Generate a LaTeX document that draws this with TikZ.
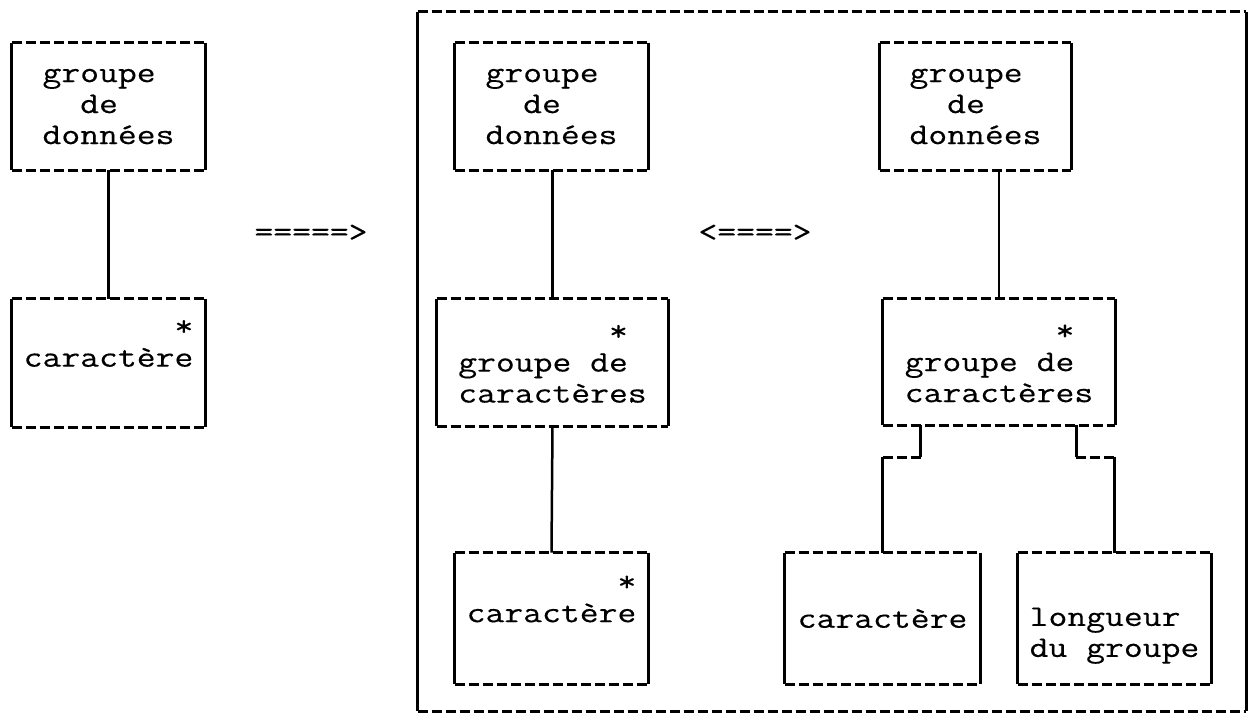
\documentclass[tikz,border=0pt]{standalone}
\usepackage{fontspec}
\setmonofont[FakeStretch=1.22,FakeBold=0.3]{Latin Modern Mono}
\usetikzlibrary{calc}
\newcommand{\ind}[1]{\leavevmode\hbox{\phantom{#1}}}
\begin{document}
\begin{tikzpicture}[x=0.5pt,y=-0.5pt,
  txt/.style={font=\ttfamily\fontsize{15}{15.5}\selectfont},
  bx/.style={txt,inner sep=0pt,draw=none,align=left},
  sz/.style 2 args={minimum width=#1pt,minimum height=#2pt},
  dsh/.style={line width=1.25pt,dash pattern=on 5pt off 2pt},
  sld/.style={line width=1.25pt},
  every path/.style={line cap=butt}]
\useasboundingbox (0,0) rectangle (1249,714);
% frame
\node[bx,sz={414}{349.5}] (frame) at (832,361.5) {};
% left
\node[bx,sz={96.5}{63.5}] (lg) at (108.5,106.5) {groupe\\\ind{gr}de\\données};
\node[bx,sz={96.5}{64}] (lc) at (108.5,363) {\ind{caracter}*\\caractère\\\strut};
% middle
\node[bx,sz={96.5}{63.5}] (mg) at (551.5,106.5) {groupe\\\ind{gr}de\\données};
\node[bx,sz={115.5}{63.5}] (mgc) at (552.5,362.5) {\ind{groupe d}*\\groupe de\\caractères};
\node[bx,sz={96.5}{65.5}] (mc) at (551.5,618.5) {\ind{caracter}*\\caractère\\\strut};
% right
\node[bx,sz={95.5}{63.5}] (rg) at (975.5,106.5) {groupe\\\ind{gr}de\\données};
\node[bx,sz={116}{63}] (rgc) at (999,362) {\ind{groupe d}*\\groupe de\\caractères};
\node[bx,sz={97.5}{65.5}] (rc) at (882.5,618.5) {caractère};
\node[bx,sz={96.5}{65.5}] (rl) at (1114.5,618.5) {\strut\\longueur\\du groupe};
% arrows as text
\node[txt,inner sep=0pt] (a1) at (311,233) {=====>};
\node[txt,inner sep=0pt] (a2) at (755,233) {<====>};
% box borders
\foreach \n in {frame,lg,lc,mg,mgc,mc,rg,rgc,rc,rl}{
  \draw[dsh] (\n.north west) -- (\n.north east);
  \draw[dsh] (\n.south west) -- (\n.south east);
  \draw[sld] (\n.north west) -- (\n.south west);
  \draw[sld] (\n.north east) -- (\n.south east);
}
% connectors
\draw[sld] (lg.south) -- (lc.north);
\draw[sld] (mg.south -| mgc.north) -- (mgc.north);
\draw[sld] (mgc.south) -- (mc.north);
\draw[sld] (rg.south -| rgc.north) -- (rgc.north);
\draw[sld] ($(rgc.south west)+(38,0)$) -- ++(0,32) coordinate (j1);
\draw[dsh] (j1) -- (j1 -| rc.north);
\draw[sld] (j1 -| rc.north) -- (rc.north);
\draw[sld] ($(rgc.south east)+(-39,0)$) -- ++(0,32) coordinate (j2);
\draw[dsh] (j2) -- (j2 -| rl.north);
\draw[sld] (j2 -| rl.north) -- (rl.north);
\end{tikzpicture}
\end{document}
